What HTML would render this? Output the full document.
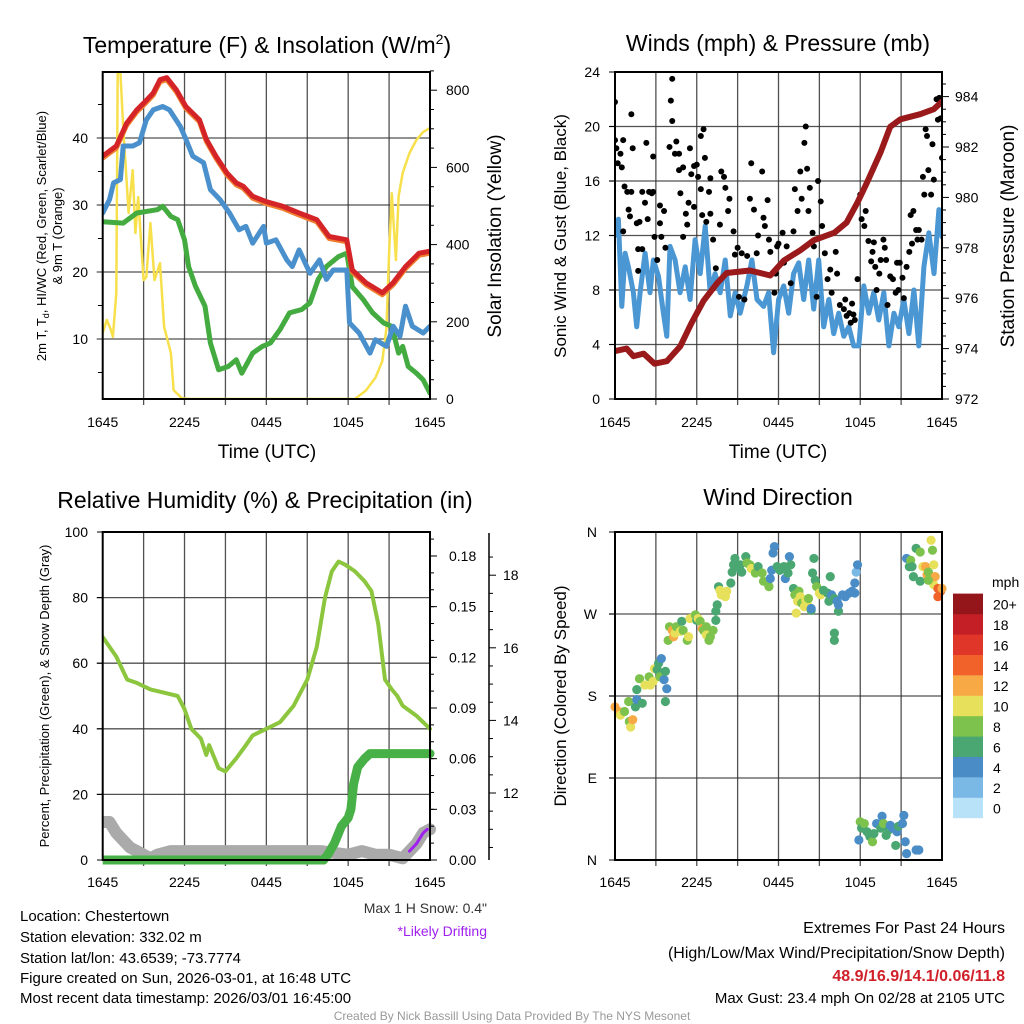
<!DOCTYPE html>
<html><head><meta charset="utf-8"><title>Mesonet Station Chart</title>
<style>
html,body{margin:0;padding:0;background:#fff;}
svg{display:block;font-family:"Liberation Sans",Arial,sans-serif;}
</style></head>
<body>
<svg id="chart" width="1024" height="1024" viewBox="0 0 1024 1024" xmlns="http://www.w3.org/2000/svg">
<rect x="0" y="0" width="1024" height="1024" fill="#fff"/>
<!-- titles -->
<text x="267" y="53" font-size="23" text-anchor="middle">Temperature (F) &amp; Insolation (W/m<tspan font-size="14" dy="-9">2</tspan><tspan dy="9">)</tspan></text>
<text x="778" y="51" font-size="23" text-anchor="middle">Winds (mph) &amp; Pressure (mb)</text>
<text x="265" y="508" font-size="23" text-anchor="middle">Relative Humidity (%) &amp; Precipitation (in)</text>
<text x="778" y="505" font-size="23" text-anchor="middle">Wind Direction</text>
<!-- x axis titles -->
<text x="267" y="458" font-size="19" text-anchor="middle">Time (UTC)</text>
<text x="778" y="458" font-size="19" text-anchor="middle">Time (UTC)</text>
<!-- y axis titles -->
<text transform="translate(46,236) rotate(-90)" font-size="13" text-anchor="middle">2m T, T<tspan font-size="9" dy="3">d</tspan><tspan dy="-3">, HI/WC (Red, Green, Scarlet/Blue)</tspan></text>
<text transform="translate(62,236) rotate(-90)" font-size="13" text-anchor="middle">&amp; 9m T (Orange)</text>
<text transform="translate(501,236) rotate(-90)" font-size="19" text-anchor="middle">Solar Insolation (Yellow)</text>
<text transform="translate(566,236) rotate(-90)" font-size="17" text-anchor="middle">Sonic Wind &amp; Gust (Blue, Black)</text>
<text transform="translate(1014,236) rotate(-90)" font-size="19" text-anchor="middle">Station Pressure (Maroon)</text>
<text transform="translate(49,696) rotate(-90)" font-size="13" text-anchor="middle">Percent, Precipitation (Green), &amp; Snow Depth (Gray)</text>
<text transform="translate(566,696) rotate(-90)" font-size="17" text-anchor="middle">Direction (Colored By Speed)</text>
<!-- notes -->
<text x="487" y="913" font-size="14" text-anchor="end" fill="#333">Max 1 H Snow: 0.4"</text>
<text x="487" y="936" font-size="14" text-anchor="end" fill="#a020f0">*Likely Drifting</text>
<text x="20" y="921" font-size="15">Location: Chestertown</text>
<text x="20" y="942" font-size="15">Station elevation: 332.02 m</text>
<text x="20" y="963" font-size="15">Station lat/lon: 43.6539; -73.7774</text>
<text x="20" y="983" font-size="15">Figure created on Sun, 2026-03-01, at 16:48 UTC</text>
<text x="20" y="1003" font-size="15">Most recent data timestamp: 2026/03/01 16:45:00</text>
<text x="1005" y="933" font-size="16" text-anchor="end">Extremes For Past 24 Hours</text>
<text x="1005" y="958" font-size="16" text-anchor="end">(High/Low/Max Wind/Precipitation/Snow Depth)</text>
<text x="1005" y="981" font-size="16" text-anchor="end" font-weight="bold" fill="#d0202a">48.9/16.9/14.1/0.06/11.8</text>
<text x="1005" y="1003" font-size="15" text-anchor="end">Max Gust: 23.4 mph On 02/28 at 2105 UTC</text>
<text x="512" y="1020" font-size="12" text-anchor="middle" fill="#999">Created By Nick Bassill Using Data Provided By The NYS Mesonet</text>
<text x="992" y="587" font-size="14">mph</text>
</svg>
<script>
// ---------- DATA ----------
const timeTickLabels = ["1645","2245","0445","1045","1645"];
const timeTickHours = [0,6,12,18,24];
const tempTicks = [10,20,30,40];
const solarTicks = [0,200,400,600,800];
const windTicks = [0,4,8,12,16,20,24];
const pressTicks = [972,974,976,978,980,982,984];
const rhTicks = [0,20,40,60,80,100];
const precipTicks = [0.00,0.03,0.06,0.09,0.12,0.15,0.18];
const precipTickLabels = ["0.00","0.03","0.06","0.09","0.12","0.15","0.18"];
const snowTicks = [12,14,16,18];
const dirTicks = [0,90,180,270,360];
const dirTickLabels = ["N","E","S","W","N"];
const speedBins = ["0","2","4","6","8","10","12","14","16","18","20+"];
const speedColors = ["#b8e2f8","#7ab8e6","#4a8dc6","#4aa772","#7dc24c","#e6e05a","#f7a945","#f0622a","#e03529","#c41e26","#94161b"];

const tempHours = [0,1,1.75,2.5,3,3.7,4.2,4.7,5.4,6.1,7.1,7.6,8.3,9.1,9.8,10.3,11,12,13.2,14.4,15.7,16.6,17.9,18.3,19.3,20.5,21.3,22.2,23.2,24];
const tempVals = [37.3,38.8,42.2,44.2,45.2,46.7,48.7,49,47.2,44.7,42.7,39.8,37.3,34.8,33.3,32.8,31.3,30.5,29.8,28.8,27.8,25.3,24.8,20.3,18.4,16.9,18.4,20.8,22.8,23.1];
const chillHours = [0,0.5,0.8,1.3,1.5,2.2,2.7,3.2,3.7,4.4,4.9,5.7,6.1,6.6,7.4,7.9,8.6,9.3,10,10.5,11,11.8,12,12.7,13.5,13.9,14.4,15.2,15.9,16.4,16.9,17.9,18.1,18.8,19.6,20,20.8,21.3,21.8,22.2,22.7,23.5,24];
const chillVals = [28.8,30.8,33.3,33.8,38.8,38.8,39.3,42.7,44.2,44.7,44.2,41.7,39.8,37.3,36.3,32.3,30.8,28.8,26.3,26.8,24.3,26.8,24.3,24.8,21.8,20.8,23.3,19.8,21.8,18.9,20.3,20.3,12.4,10.9,7.9,9.9,8.9,11.9,10.4,14.9,11.9,10.9,11.9];
const dewHours = [0,1.5,2.5,4,4.4,5,5.5,6,6.3,6.8,7.5,7.9,8.5,9.2,9.8,10.2,11,11.7,12.3,13,13.7,14.6,15.2,15.8,16.4,17.3,17.9,18.3,19.1,19.8,20.6,21.2,21.7,22,22.4,23,23.5,24];
const dewVals = [27.5,27.3,28.8,29.3,29.8,28.3,27.8,24.8,20.8,17.9,14.9,9.4,5.4,5.9,6.9,4.9,7.9,8.9,9.4,11.4,13.9,14.4,15.4,18.9,20.8,22.3,22.8,17.8,15.9,13.9,12.4,11.9,7.9,8.9,5.9,4.9,3.9,1.9];
const solarHours = [0,0.3,0.6,0.75,1,1.1,1.3,1.5,1.9,2.2,2.4,2.6,3,3.2,3.5,3.8,4.2,4.5,5,5.2,5.8,6.5,18.5,19.3,20,20.5,20.8,21,21.2,21.5,21.7,22,22.5,23,23.5,24];
const solarVals = [171,205,179,161,274,845,845,705,482,593,430,523,308,316,456,308,352,187,119,23,2,0,0,22,55,98,183,378,533,360,525,586,637,671,692,702];

const pressHours = [0,0.86,1.35,2.1,2.9,3.8,4.8,5.6,6.5,7.5,8.2,9.9,11.4,12.4,13.6,14.6,16.1,17,17.8,18.5,19.5,20.2,20.95,22.4,23.4,24];
const pressVals = [973.9,974.0,973.7,973.8,973.4,973.5,974.1,975.0,975.9,976.6,977.0,977.1,976.9,977.5,977.9,978.3,978.6,979.0,979.8,980.6,981.8,982.8,983.1,983.3,983.5,983.8];
const windHours = [0,0.25,0.5,0.74,0.98,1.35,1.59,1.84,2.21,2.57,2.82,3.19,3.55,3.8,4.04,4.41,4.78,5.15,5.51,5.88,6.25,6.62,6.99,7.35,7.72,8.09,8.46,8.82,9.19,9.68,10.05,10.42,10.91,11.27,11.64,12.01,12.38,12.75,13.11,13.48,13.85,14.22,14.58,14.95,15.32,15.69,16.05,16.42,16.79,17.16,17.52,17.89,18.26,18.63,18.99,19.36,19.73,20.1,20.47,20.83,21.2,21.57,21.94,22.3,22.67,23.04,23.41,23.77,24];
const windVals = [12,13.2,6.8,10.7,9.7,7.8,5.3,7.8,10.7,7.8,10.2,9,6.3,4.6,11.2,10.2,7.8,9.7,7.3,11.7,9.2,12.7,7.8,9.2,7.8,10.2,6.1,7.8,6.3,8.3,10.2,7.3,6.8,7.8,3.4,7.3,8.3,6.3,9.2,10,7.3,10.2,6.6,10.2,5.3,7.3,4.8,6.3,4.6,5.3,3.9,3.9,8.3,6.3,7.8,5.8,7.8,3.9,6.3,5.3,7.3,4.8,8,3.9,9.7,12.2,9.2,13.9,11.9];
const gustHours = [0,0,0.1,0.2,0.4,0.5,0.6,0.6,0.7,0.9,1,1.1,1.2,1.2,1.3,1.6,1.7,1.8,2,1.7,2,2.2,2.3,2.4,2.5,2.7,2.8,2.8,2.9,3.1,3.3,3.3,3.4,3.6,3.7,4,4.1,4.2,4.2,4.4,4.5,4.7,4.7,4.8,5,5,5.2,5.3,5.4,5.5,5.6,5.8,5.8,6,6.1,6.3,6.3,6.5,6.6,6.4,6.7,6.9,7,7,7.2,7.4,7.7,7.8,8,8.1,8.3,8.4,8.7,8.8,9,9.1,9.3,9.5,9.7,9.9,10,10.2,10.4,10.5,10.8,10.9,11,11.2,11.3,11.4,11.7,11.8,11.9,12,12.3,12.4,12.6,12.9,13.1,13.2,13.4,13.6,13.7,13.9,14,14.1,14.2,14.3,14.5,14.6,14.8,14.9,15.1,15.2,15.4,15.6,15.8,15.9,16.2,16.3,16.5,16.8,16.9,17,17.2,17.3,17.4,17.5,17.6,17.8,18,18.1,18.3,18.4,18.6,18.8,18.9,19,19.1,19.2,19.4,19.5,19.7,19.8,19.9,20,20.2,20.4,20.6,20.7,20.8,20.9,21.1,21.2,21.4,21.6,21.7,21.8,21.9,22.1,22.2,22.3,22.5,22.6,22.7,22.8,22.9,23,23.2,23.3,23.4,23.6,23.7,23.8,23.9,24];
const gustVals = [21.8,19,18.4,17.3,18,17,19,12.3,15.6,15.2,13.9,13.4,15.2,20.9,18.4,12.9,11,13,11,9.4,15.2,14.4,18.8,13.2,15.2,15.1,17.8,15.2,11.9,10.2,14.2,12.9,11.9,13.8,11.1,18.5,21.9,23.5,20.4,18,18.9,16.8,18,15.1,17,11.9,13.6,12.8,14.4,18.4,16.5,17.1,14.1,17.2,16.3,15.4,19.3,19.8,17.7,13.5,13,15.2,16.2,13.6,11.7,9.6,12.8,16.7,16.3,15.5,13.8,14.7,12.3,10.6,11.1,7.5,10.7,7.3,10.5,14.7,17.3,13.9,10.7,12,16.7,13.3,12.7,14.6,11.7,10.8,7.8,9.2,11.2,11.4,12.2,10,11.2,8.5,12.3,15.4,13.8,16.7,14.7,18.8,20,16.9,13.8,15.5,12.2,11.2,7.5,16,14.5,12.7,10.7,8.8,9.5,7.8,10.8,9.2,6.9,6.6,7.3,6.1,6.3,5.6,7,6.2,5.8,8.8,15,13.2,12.7,13.8,11.6,10.1,10.8,11.5,9.7,8,9.2,10.2,11.7,11.1,10.2,6.9,9,8.8,7.8,10,8,10,8.9,7.4,9.7,10.8,13.5,11.4,13.8,12.4,11.7,12.4,11.7,16.3,15,19.8,19.3,16.8,15,18.7,16.1,22,20.5,22.1,20.6,17.7];

const rhHours = [0,1,1.8,2.5,3.5,4.5,5.5,6,6.5,7.2,7.6,7.8,8.5,9,9.8,10.5,11,12,13,14,15,15.7,16.3,16.8,17.3,17.8,18.5,19.2,19.7,20.2,20.7,21.2,21.6,22,23,24];
const rhVals = [68,62,55,54,52,51,50,46,40,37,32,35,28,27,31,35,38,40,42,47,55,65,80,88,91,90,88,85,82,72,55,52,50,47,44,40];
const precipHours = [0,16.2,16.5,17,17.5,18,18.2,18.4,18.7,19.2,19.6,24];
const precipVals = [0,0,0.003,0.01,0.02,0.025,0.03,0.045,0.055,0.06,0.063,0.063];
const snowHours = [0,0.5,1,1.5,2,2.5,3,3.5,4,5,6,8,10,12,14,16,17,18,19,20,21,22,22.5,23,23.5,24];
const snowVals = [11.2,11.2,10.9,10.7,10.5,10.4,10.3,10.2,10.3,10.4,10.4,10.4,10.4,10.4,10.4,10.4,10.35,10.3,10.4,10.3,10.3,10.2,10.4,10.6,10.9,11.0];
const driftHours = [22.5,23,23.5,23.8];
const driftVals = [10.4,10.6,10.9,11.0];

const dirHours = [0,0.25,0.5,0.4,0.7,1,1.05,1.15,1.3,1.5,1.6,1.6,1.8,2,2.2,2.5,2.6,2.8,2.9,3.1,3.2,3.3,3.4,3.6,3.7,3.8,3.7,3.9,4,4.2,4.3,4.4,4.5,4.8,4.9,5,5.3,5.4,5.5,5.8,5.9,6,6.1,6.25,6.4,6.5,6.7,6.7,6.9,7,7.2,7.4,7.4,7.5,7.6,7.7,7.8,8.1,8.2,8.5,8.6,8.7,8.8,8.9,9.2,9.3,9.6,9.7,9.9,10,10.3,10.5,10.8,10.9,11.2,11.3,11.4,11.5,11.6,11.7,11.9,12.1,12.4,12.5,12.7,12.8,12.9,13.1,13.2,13.4,13.5,13.6,13.7,13.9,14,14.1,13.3,14.2,14.4,14.4,14.5,14.6,14.7,14.8,15,15.1,15.3,15.6,15.7,15.8,15.9,16.1,16.3,16.4,16.4,16.7,16.9,17.2,17.4,17.6,17.6,17.7,17.8,16.1,16.1,17.9,18,18.1,18.3,18.5,18.7,18.9,19,19.2,19.5,19.6,19.7,19.9,20.1,20.2,20.4,20.6,20.7,20.8,21.1,21.2,21.3,21.4,22.1,22.3,21.4,21.6,21.7,21.8,22.1,22.4,21.9,22.4,22.6,22.8,22.9,23,23.2,23.3,23.4,23.4,23.5,23.7,23.7,23.9,24,23];
const dirVals = [168,163,162,159,163,174,152,146,154,168,176,187,199,172,192,201,192,196,210,209,216,201,221,198,207,188,174,241,256,252,245,249,256,251,262,252,241,245,265,267,269,263,265,262,254,252,256,247,241,245,252,263,273,280,300,296,291,289,295,304,316,324,331,322,324,316,333,326,324,320,315,322,315,306,304,300,309,318,337,344,322,318,322,309,315,333,324,298,291,284,295,289,282,278,285,282,271,287,274,276,315,331,307,300,293,291,296,293,284,311,291,287,284,273,280,291,289,293,295,293,304,316,324,249,241,22,42,35,40,31,26,20,29,40,35,48,40,27,33,38,35,16,31,37,40,49,20,7,11,11,331,322,329,322,342,338,311,306,322,322,313,316,351,340,324,302,311,298,289,295,298,307];
const dirSpeeds = [12,13,12,10,8,8,8,10,12,6,4,6,8,6,10,8,10,10,10,6,6,8,4,4,6,4,6,8,8,12,12,10,8,10,6,8,8,10,10,10,8,6,10,8,12,8,8,10,8,8,8,6,6,6,6,10,10,10,10,6,6,6,6,6,6,6,6,8,8,10,8,6,8,8,8,8,4,4,4,4,6,6,6,4,6,4,6,6,8,10,8,10,8,10,10,10,10,8,6,4,6,6,6,8,10,10,6,6,6,6,4,6,4,6,4,4,4,4,4,4,4,2,4,6,6,4,8,6,8,6,6,8,6,4,6,4,8,6,6,4,4,6,4,6,4,4,4,4,4,4,4,6,8,6,6,8,6,6,10,12,12,8,10,8,10,10,12,14,14,14,12,8];

// ---------- HELPERS ----------
const NS='http://www.w3.org/2000/svg';
const svg=document.getElementById('chart');
function mk(tag,attrs,parent){const e=document.createElementNS(NS,tag);for(const k in attrs)e.setAttribute(k,attrs[k]);(parent||svg).appendChild(e);return e;}
function lin(d0,d1,r0,r1){return v=>r0+(v-d0)*(r1-r0)/(d1-d0);}
function pts(hs,vs,fx,fy){return hs.map((h,i)=>fx(h).toFixed(1)+','+fy(vs[i]).toFixed(1)).join(' ');}
function clip(id,x,y,w,h){const d=mk('clipPath',{id:id});const r=mk('rect',{x:x,y:y,width:w,height:h},d);return 'url(#'+id+')';}
function grid(name,x0,x1,y0,y1,xs,ys){
  const g=mk('g',{stroke:'#333','stroke-width':1.3,'stroke-opacity':0.85});
  
  
  xs.forEach(x=>mk('line',{x1:x,x2:x,y1:y0,y2:y1+6},g));
  ys.forEach(y=>mk('line',{x1:x0-6,x2:x1,y1:y,y2:y},g));
}
function frame(name,x0,y0,x1,y1){
  const r=mk('rect',{x:x0,y:y0,width:x1-x0,height:y1-y0,fill:'none',stroke:'#000','stroke-width':2});
  
  
}
function label(txt,x,y,anchor,size,name){
  const t=mk('text',{x:x,y:y,'text-anchor':anchor,'font-size':size});
  t.textContent=txt;
  
  
  return t;
}
function line(hs,vs,fx,fy,color,w,name,cp){
  const p=mk('polyline',{points:pts(hs,vs,fx,fy),fill:'none',stroke:color,'stroke-width':w,'stroke-linejoin':'round','stroke-linecap':'round','clip-path':cp});
  
  
  return p;
}

// ---------- PANEL 1: temperature ----------
const X1=lin(0,24,102.7,430), Y1=v=>406-6.7*v, R1=w=>399-0.386*w;
grid('temperature-gridlines',102.7,430,72,399,[3,6,9,12,15,18,21].map(X1),tempTicks.map(Y1));
const cp1=clip('c1',102.7,72,327.3,327);
line(solarHours,solarVals,X1,R1,'#f7e04c',2.5,'solar-insolation-line',cp1);
line(dewHours,dewVals,X1,Y1,'#43ab3f',5,'dewpoint-line',cp1);
line(chillHours,chillVals,X1,Y1,'#4a90cc',5,'windchill-line',cp1);
line(tempHours,tempVals.map(v=>v-0.3),X1,Y1,'#f08030',5,'temp-9m-line',cp1);
line(tempHours,tempVals,X1,Y1,'#d42428',5,'temp-2m-line',cp1);
frame('temperature-plot-frame',102.7,72,430,399);
tempTicks.forEach(v=>label(String(v),88,Y1(v)+5,'end',14,'temp-tick-label'));
[5,15,25,35,45].forEach(v=>mk('line',{x1:98,x2:102.7,y1:Y1(v),y2:Y1(v),stroke:'#000','stroke-width':1}));
solarTicks.forEach(v=>{mk('line',{x1:430,x2:437,y1:R1(v),y2:R1(v),stroke:'#000','stroke-width':1});label(String(v),446,R1(v)+5,'start',14,'solar-tick-label');});
[50,100,150,250,300,350,450,500,550,650,700,750,850].forEach(v=>mk('line',{x1:430,x2:434,y1:R1(v),y2:R1(v),stroke:'#000','stroke-width':1}));
timeTickHours.forEach((h,i)=>label(timeTickLabels[i],X1(h),427,'middle',14,'temp-time-tick-label'));

// ---------- PANEL 2: wind & pressure ----------
const X2=lin(0,24,615,942), W2=v=>399-13.625*v, P2=p=>399-(p-972)*25.2;
grid('wind-gridlines',615,942,72,399,[3,6,9,12,15,18,21].map(X2),[4,8,12,16,20].map(W2));
const cp2=clip('c2',615,72,327,327);
line(windHours,windVals,X2,W2,'#4a97d4',5,'sustained-wind-line',cp2);
const gg=mk('g',{fill:'#000','clip-path':cp2});


gustHours.forEach((h,i)=>{
  const c=mk('circle',{cx:X2(h),cy:W2(gustVals[i]),r:3},gg);
  
  
});
line(pressHours,pressVals,X2,P2,'#9a1a1c',6,'pressure-line',cp2);
frame('wind-plot-frame',615,72,942,399);
windTicks.forEach(v=>{mk('line',{x1:609,x2:615,y1:W2(v),y2:W2(v),stroke:'#000','stroke-width':1});label(String(v),600,W2(v)+5,'end',14,'wind-tick-label');});
pressTicks.forEach(v=>{mk('line',{x1:942,x2:949,y1:P2(v),y2:P2(v),stroke:'#000','stroke-width':1});label(String(v),955,P2(v)+5,'start',14,'pressure-tick-label');});
for(let p=972.5;p<985;p+=0.5){if(p%2)mk('line',{x1:942,x2:946,y1:P2(p),y2:P2(p),stroke:'#000','stroke-width':1});}
timeTickHours.forEach((h,i)=>label(timeTickLabels[i],X2(h),427,'middle',14,'wind-time-tick-label'));

// ---------- PANEL 3: RH, precip, snow ----------
const X3=lin(0,24,102.7,430), Y3=v=>860-3.28*v, PR=v=>860-v*1689, SN=s=>793-(s-12)*36.3;
grid('humidity-gridlines',102.7,430,532,860,[3,6,9,12,15,18,21].map(X3),[20,40,60,80].map(Y3));
const cp3=clip('c3',102.7,527,340,340);
line(snowHours,snowVals,X3,SN,'#aaaaaa',12,'snow-depth-line',cp3);
line(driftHours,driftVals,X3,SN,'#a020f0',3,'drifting-snow-line',cp3);
line(precipHours,precipVals,X3,PR,'#47b046',9,'precipitation-line',cp3);
line(rhHours,rhVals,X3,Y3,'#8cc63e',4,'relative-humidity-line',cp3);
frame('humidity-plot-frame',102.7,532,430,860);
rhTicks.forEach(v=>{mk('line',{x1:97,x2:102.7,y1:Y3(v),y2:Y3(v),stroke:'#000','stroke-width':1});label(String(v),88,Y3(v)+5,'end',14,'rh-tick-label');});
precipTicks.forEach((v,i)=>{mk('line',{x1:430,x2:437,y1:PR(v),y2:PR(v),stroke:'#000','stroke-width':1});label(precipTickLabels[i],449,PR(v)+5,'start',14,'precip-tick-label');});
for(let v=0.01;v<0.195;v+=0.01){mk('line',{x1:430,x2:434,y1:PR(v),y2:PR(v),stroke:'#000','stroke-width':1});}
mk('line',{x1:489,x2:489,y1:533,y2:860,stroke:'#000','stroke-width':1.5});
snowTicks.forEach(v=>{mk('line',{x1:489,x2:496,y1:SN(v),y2:SN(v),stroke:'#000','stroke-width':1});label(String(v),503,SN(v)+5,'start',14,'snow-tick-label');});
for(let s=10.5;s<19;s+=0.5){if(s%2)mk('line',{x1:489,x2:493,y1:SN(s),y2:SN(s),stroke:'#000','stroke-width':1});}
timeTickHours.forEach((h,i)=>label(timeTickLabels[i],X3(h),887,'middle',14,'rh-time-tick-label'));

// ---------- PANEL 4: wind direction ----------
const X4=lin(0,24,615,942), D4=d=>860-d*328/360;
grid('direction-gridlines',615,942,532,860,[3,6,9,12,15,18,21].map(X4),[90,180,270].map(D4));
const cp4=clip('c4',610,527,340,340);
const dg=mk('g',{'clip-path':cp4});


dirHours.forEach((h,i)=>{
  const bin=Math.min(10,Math.floor(dirSpeeds[i]/2));
  const c=mk('circle',{cx:X4(h),cy:D4(dirVals[i]),r:4.6,fill:speedColors[bin]},dg);
  
  
});
frame('direction-plot-frame',615,532,942,860);
dirTicks.forEach((d,i)=>{mk('line',{x1:609,x2:615,y1:D4(d),y2:D4(d),stroke:'#000','stroke-width':1});label(dirTickLabels[i],597,D4(d)+5,'end',14,'direction-tick-label');});
timeTickHours.forEach((h,i)=>label(timeTickLabels[i],X4(h),887,'middle',14,'direction-time-tick-label'));

// colorbar
speedBins.forEach((b,i)=>{
  const y=818-(i+1)*20.4;
  const r=mk('rect',{x:953,y:y,width:30,height:20.6,fill:speedColors[i]});
  
  
  label(b,993,y+16,'start',14,'colorbar-label');
});
</script>
</body></html>
